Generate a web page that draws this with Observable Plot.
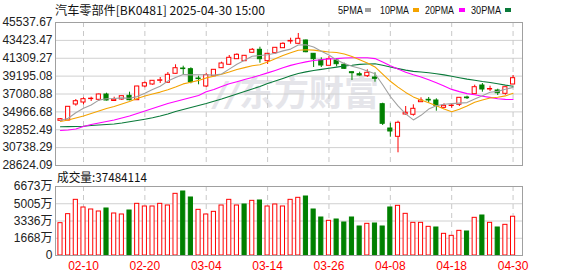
<!DOCTYPE html>
<html><head><meta charset="utf-8">
<script src="https://cdn.jsdelivr.net/npm/d3@7"></script>
<script src="https://cdn.jsdelivr.net/npm/@observablehq/plot@0.6"></script>
<style>
html,body{margin:0;padding:0;background:#fff;}
#wrap{position:relative;width:578px;height:276px;overflow:hidden;background:#fff;}
#wrap svg{position:absolute;left:0;}
</style></head><body><div id="wrap"></div>
<script>
const dates = ["02-05","02-06","02-07","02-10","02-11","02-12","02-13","02-14","02-17","02-18","02-19","02-20","02-21","02-24","02-25","02-26","02-27","02-28",
"03-03","03-04","03-05","03-06","03-07","03-10","03-11","03-12","03-13","03-14","03-17","03-18","03-19","03-20","03-21","03-24","03-25","03-26","03-27","03-28","03-31",
"04-01","04-02","04-03","04-07","04-08","04-09","04-10","04-11","04-14","04-15","04-16","04-17","04-18","04-21","04-22","04-23","04-24","04-25","04-28","04-29","04-30"];
const open = [33911,33946,35839,36075,36478,36395,37022,36253,36430,36868,36347,37968,38204,38642,38406,39470,40097,40014,38914,37968,39186,40132,40535,41197,40960,41954,42309,40960,41907,42498,43291,43019,43409,41836,41043,40416,41043,40535,39659,39423,39186,39032,35874,33000,32018,34656,34621,36111,36395,36312,35449,35661,35803,36667,37057,38086,37613,37495,37104,38204];
const close = [34100,35567,36229,36466,36525,37022,36312,36407,36821,36347,37968,38358,38642,38701,39352,40132,40026,38477,38843,39304,39943,40688,41363,41717,41599,42309,41197,41836,42545,43019,43361,43610,42025,41197,40452,41197,40606,40061,39541,39269,39588,38879,33556,32645,33674,34857,35330,36312,36312,35685,35685,35709,36631,36584,37885,37613,37672,37175,37885,38950];
const high = [34183,35602,36430,36631,36702,37081,37175,36702,36845,37294,37992,38524,38677,39032,39624,40535,40369,40180,39186,39541,39978,40842,41635,41836,41635,42463,42616,41871,42581,43137,43681,44237,43468,41871,41363,41516,41244,40724,39683,39659,39943,39588,35993,33627,33864,35602,35803,36631,36667,36513,35921,35921,36667,36821,38122,38323,38003,37648,37909,39269];
const low = [33793,33911,35638,35803,36194,36194,36253,36229,36312,36276,36324,37814,38122,38323,38382,39446,39352,38287,38169,37850,39151,40097,40511,41162,40925,41930,40724,40570,41788,42463,42971,42995,41954,40215,40215,40392,40298,39979,38677,39186,39032,38477,33355,31971,30126,34573,34455,36099,35993,35046,35330,35401,35602,36430,37022,37294,37377,36903,36939,38180];
const ma5 = [33946,34218,34857,35401,35780,36359,36513,36549,36620,36584,36773,37175,37625,38003,38607,39032,39375,39340,39364,39352,39316,39446,40026,40606,41067,41540,41635,41729,41895,42179,42392,42877,42912,42640,42131,41694,41091,40700,40369,40132,39813,39470,38169,36785,35673,34727,34017,34561,35295,35697,35863,35945,36004,36064,36501,36880,37282,37388,37649,37861];
const ma10 = [33828,34006,34242,34479,34774,35070,35366,35602,35898,36182,36560,36844,37081,37306,37589,37909,38275,38477,38689,38985,39174,39411,39683,39979,40203,40428,40546,40878,41244,41623,41966,42250,42321,42273,42155,42049,41989,41812,41505,41126,40759,40286,39435,38583,37897,37270,36738,36359,36040,35685,35295,34975,35283,35673,36099,36371,36608,36690,36856,37175];
const ma20 = [32764,32823,32941,33237,33473,33651,33828,34006,34242,34479,34774,35070,35366,35661,35957,36194,36430,36667,36903,37341,37613,37968,38287,38536,38796,39032,39293,39577,39872,40180,40464,40688,40878,41043,41138,41232,41268,41339,41374,41374,41363,41268,40878,40428,40026,39659,39364,39092,38772,38406,38027,37625,37365,37128,36998,36821,36679,36525,36442,36430];
const ma30 = [33213,33225,33237,33272,33355,33414,33473,33532,33651,33793,33946,34100,34266,34479,34715,35011,35247,35484,35721,35957,36217,36489,36785,37081,37377,37672,37968,38323,38618,38926,39233,39506,39695,39860,39991,40121,40263,40393,40475,40582,40629,40653,40475,40274,40085,39908,39754,39683,39600,39482,39340,39174,39009,38843,38713,38559,38441,38287,38134,38003];
const volume = [3127,3998,5384,4643,4449,4256,4546,4062,3966,4352,4997,4739,4739,4997,4836,5964,6190,5610,4417,3966,4223,4836,5384,4836,4933,5287,5320,4739,4933,4739,5384,5578,5706,4449,3675,3353,3482,3192,3675,2805,3063,3095,2805,4643,4804,4030,3160,3160,2773,2708,2096,1902,2386,2321,3643,3869,3160,2708,2966,3748];
const volUp = [1,1,1,1,1,1,0,1,1,0,1,1,1,1,1,1,0,0,1,1,1,1,1,1,0,1,0,1,1,1,1,1,0,0,0,1,0,0,0,0,1,0,0,0,1,1,1,1,1,0,1,1,1,0,1,0,1,0,1,1];
const tickLabels = ["02-10","02-20","03-04","03-14","03-26","04-08","04-18","04-30"];
const yTicks = [28624.09,30738.29,32852.49,34966.68,37080.88,39195.08,41309.27,43423.47,45537.67];
const volTicks = [0,1668,3336,5005,6673];
const maNames = ["5PMA","10PMA","20PMA","30PMA"];
const maColors = ["#a0a0a0","#f4a300","#ff00ff","#0a7a3a"];
const titleText = "汽车零部件[BK0481] 2025-04-30 15:00";
const volTitle = "成交量:37484114";
const watermark = "东方财富";

const RED = "#ff0000", GREEN = "#008000", WM = "#e5e5ea";
const rows = dates.map((d, i) => ({i, date: d, open: open[i], close: close[i], high: high[i], low: low[i],
  ma5: ma5[i], ma10: ma10[i], ma20: ma20[i], ma30: ma30[i], volume: volume[i], volUp: volUp[i]}));
const tickIdx = tickLabels.map(t => dates.indexOf(t));
const xDomain = [-0.65, 60.23];
const font = "'Liberation Sans','Noto Sans CJK SC',sans-serif";
const up = d => d.close >= d.open;

const main = Plot.plot({
  width: 578, height: 168,
  marginLeft: 55, marginRight: 56, marginTop: 22, marginBottom: 3,
  x: {type: "linear", domain: xDomain, axis: null},
  y: {domain: [yTicks[0], yTicks[yTicks.length - 1]], axis: null},
  color: {type: "identity"},
  style: {fontFamily: font, fontSize: "12px", color: "#222", background: "transparent", overflow: "visible"},
  marks: [
    Plot.text([watermark], {frameAnchor: "middle", dx: 20, dy: 1, fontSize: 35, fontWeight: "bold", fill: WM, fontFamily: "'Noto Sans CJK SC',sans-serif"}),
    Plot.text(["//"], {frameAnchor: "middle", dx: -62, dy: 1, fontSize: 34, fontWeight: "bold", fontStyle: "italic", fill: WM, fontFamily: "'DejaVu Sans',sans-serif"}),
    Plot.ruleY(yTicks, {stroke: "#d0d0d0"}),
    Plot.ruleX(tickIdx, {stroke: "#c8c8c8", strokeDasharray: "5,4"}),
    Plot.ruleX(rows, {x: "i", y1: "low", y2: "high", stroke: d => up(d) ? RED : GREEN}),
    Plot.rect(rows, {x1: d => d.i - 0.27, x2: d => d.i + 0.27, y1: "open", y2: "close",
      fill: d => up(d) ? "#ffffff" : GREEN, stroke: d => up(d) ? RED : GREEN}),
    Plot.line(rows, {x: "i", y: "ma30", stroke: maColors[3], strokeWidth: 1.1}),
    Plot.line(rows, {x: "i", y: "ma20", stroke: maColors[2], strokeWidth: 1.1}),
    Plot.line(rows, {x: "i", y: "ma10", stroke: maColors[1], strokeWidth: 1.1}),
    Plot.line(rows, {x: "i", y: "ma5", stroke: maColors[0], strokeWidth: 1.1}),
    Plot.axisY({ticks: yTicks, tickFormat: d => d.toFixed(2), tickSize: 0, tickPadding: 3, label: null, fill: "#222"}),
    Plot.frame({stroke: "#a0a0a0"})
  ]
});
main.style.top = "0px";

const vol = Plot.plot({
  width: 578, height: 108,
  marginLeft: 55, marginRight: 56, marginTop: 18, marginBottom: 21,
  x: {type: "linear", domain: xDomain, axis: null},
  y: {domain: [0, volTicks[volTicks.length - 1]], axis: null},
  color: {type: "identity"},
  style: {fontFamily: font, fontSize: "12px", color: "#222", background: "transparent", overflow: "visible"},
  marks: [
    Plot.ruleY(volTicks, {stroke: "#d0d0d0"}),
    Plot.ruleX(tickIdx, {stroke: "#c8c8c8", strokeDasharray: "5,4"}),
    Plot.rect(rows, {x1: d => d.i - 0.27, x2: d => d.i + 0.27, y1: 0, y2: "volume",
      fill: d => d.volUp ? "#ffffff" : GREEN, stroke: d => d.volUp ? RED : GREEN}),
    Plot.axisY({ticks: volTicks, tickFormat: d => d === 0 ? "0" : d + "万", tickSize: 0, tickPadding: 3, label: null, fill: "#222"}),
    Plot.axisX({ticks: tickIdx, tickFormat: i => dates[i], tickSize: 0, tickPadding: 6, label: null, fill: RED}),
    Plot.frame({stroke: "#a0a0a0"})
  ]
});
vol.style.top = "168px";

const wrap = document.getElementById("wrap");
wrap.appendChild(main);
wrap.appendChild(vol);

// header: title + legend, and volume title
const legX = [338, 380, 425, 471], legW = [25, 29, 29, 30], sqX = [365, 413, 459, 505];
let hdr = `<svg xmlns="http://www.w3.org/2000/svg" width="578" height="276" style="top:0;pointer-events:none">`;
hdr += `<text x="55" y="14.5" font-family="'Noto Sans CJK SC',sans-serif" font-size="12" fill="#111" textLength="210" lengthAdjust="spacingAndGlyphs">${titleText}</text>`;
maNames.forEach((n, k) => {
  hdr += `<text x="${legX[k]}" y="13.5" font-family="'Liberation Sans',sans-serif" font-size="11" fill="#111" textLength="${legW[k]}" lengthAdjust="spacingAndGlyphs">${n}</text>`;
  hdr += `<rect x="${sqX[k]}" y="8" width="6" height="4" fill="${maColors[k]}"/>`;
});
hdr += `<text x="57" y="181.5" font-family="'Noto Sans CJK SC',sans-serif" font-size="12" fill="#111" textLength="90" lengthAdjust="spacingAndGlyphs">${volTitle}</text>`;
hdr += `</svg>`;
wrap.insertAdjacentHTML("beforeend", hdr);
</script>
</body></html>
